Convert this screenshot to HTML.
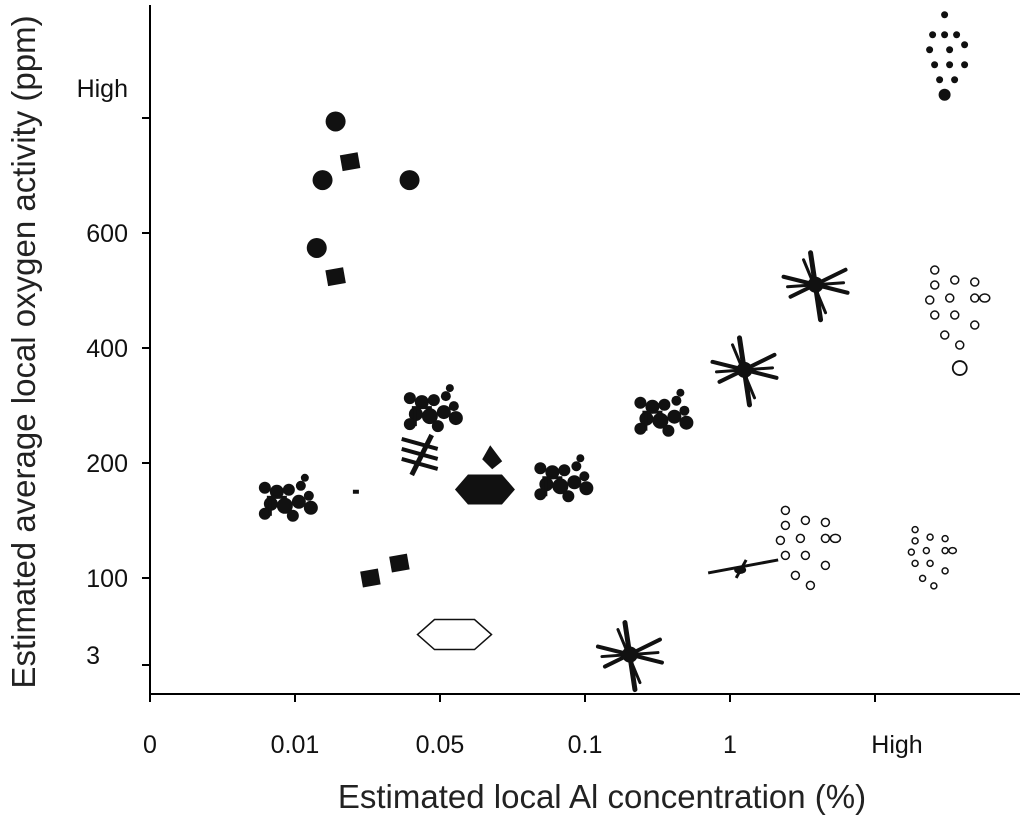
<!DOCTYPE html>
<html><head><meta charset="utf-8">
<style>
html,body{margin:0;padding:0;background:#fff;}
svg{display:block;font-family:"Liberation Sans",Arial,sans-serif;}
</style></head>
<body>
<svg id="chart" width="1024" height="815" viewBox="0 0 1024 815"></svg>
<script>
// Categorical axis labels
const xTickLabels = ["0","0.01","0.05","0.1","1","High"];
const yTickLabels = ["3","100","200","400","600","High"];
// Inclusion cluster data (positions in axis index units)
const clusterTypes = ["blobs","blob","square","blob","blob","blob","square","blobs","hatch","dash","hexFilled","diamond","square","square","hexOpen","blobs","blobs","star","star","star","starSmall","openCircles","openCirclesSmall","openCirclesBig","dots"];
const clusterX = [0.93,1.28,1.38,1.19,1.79,1.15,1.28,1.93,1.86,1.42,2.31,2.36,1.52,1.72,2.10,2.83,3.52,3.31,4.10,4.59,4.07,4.52,5.38,5.55,5.48];
const clusterY = [1.68,4.97,4.62,4.46,4.46,3.87,3.62,2.46,2.07,1.75,1.77,2.05,1.00,1.13,0.35,1.85,2.42,0.12,2.81,3.55,1.07,1.24,1.16,3.33,5.55];

const X0=150, XSTEP=145, AXIS_Y=694;
function xScale(i){return X0+i*XSTEP;}
function yScale(v){return v<1 ? 665-v*87 : 578-(v-1)*115;}

const svg=document.getElementById('chart');
const NS='http://www.w3.org/2000/svg';
function mk(tag,attrs,parent){const e=document.createElementNS(NS,tag);for(const k in attrs)e.setAttribute(k,attrs[k]);(parent||svg).appendChild(e);return e;}

const ya=mk('line',{x1:150,y1:5,x2:150,y2:AXIS_Y,stroke:'#000','stroke-width':2});


const xa=mk('line',{x1:150,y1:AXIS_Y,x2:1020,y2:AXIS_Y,stroke:'#000','stroke-width':2});



xTickLabels.forEach((l,i)=>{
  const x=xScale(i);
  const tk=mk('line',{x1:x,y1:AXIS_Y,x2:x,y2:AXIS_Y+8,stroke:'#000','stroke-width':2});
  
  
  const t=mk('text',{x:(i===5?x+22:x),y:753,'font-size':25,'text-anchor':'middle',fill:'#111'});
  t.textContent=l;
  
  
});
const yTickPos=[0,1,2,3,4,5];
yTickLabels.forEach((l,i)=>{
  const y=yScale(yTickPos[i]);
  const tk=mk('line',{x1:142,y1:y,x2:150,y2:y,stroke:'#000','stroke-width':2});
  
  
  const ly = i===0 ? y-1 : (i===5 ? y-21 : y+9);
  const t=mk('text',{x:(i===0?100:128),y:ly,'font-size':25,'text-anchor':'end',fill:'#111'});
  t.textContent=l;
  
  
});
const xt=mk('text',{x:602,y:808,'font-size':33,'text-anchor':'middle',fill:'#222'});
xt.textContent='Estimated local Al concentration (%)';


const yt=mk('text',{x:0,y:0,'font-size':33,'text-anchor':'middle',fill:'#222',transform:'translate(35,352) rotate(-90)'});
yt.textContent='Estimated average local oxygen activity (ppm)';



function drawCluster(type,cx,cy,g){
  const f='#111';
  if(type==='blob'){mk('circle',{cx,cy,r:10,fill:f},g);}
  else if(type==='square'){mk('rect',{x:cx-9,y:cy-8,width:18,height:16,fill:f,transform:`rotate(-10 ${cx} ${cy})`},g);}
  else if(type==='blobs'){
    [[-20,-12,6],[-8,-8,7],[4,-10,6],[16,-14,5],[-14,4,7],[0,6,8],[14,2,7],[24,-4,5],[-20,14,6],[8,16,6],[26,8,7],[20,-22,4]].forEach(o=>mk('circle',{cx:cx+o[0],cy:cy+o[1],r:o[2],fill:f},g));
    mk('rect',{x:cx-18,y:cy-4,width:20,height:3,fill:f},g);
    mk('rect',{x:cx-16,y:cy-2,width:3,height:18,fill:f},g);
  }
  else if(type==='hatch'){
    mk('line',{x1:cx+12,y1:cy-20,x2:cx-8,y2:cy+20,stroke:f,'stroke-width':5},g);
    [-10,0,10].forEach(d=>mk('line',{x1:cx-18,y1:cy+d-6,x2:cx+18,y2:cy+d+4,stroke:f,'stroke-width':4},g));
  }
  else if(type==='dash'){mk('rect',{x:cx-3,y:cy-2,width:6,height:4,fill:f},g);}
  else if(type==='hexFilled'){mk('polygon',{points:`${cx-30},${cy} ${cx-17},${cy-15} ${cx+17},${cy-15} ${cx+30},${cy} ${cx+17},${cy+15} ${cx-17},${cy+15}`,fill:f},g);}
  else if(type==='hexOpen'){mk('polygon',{points:`${cx-37},${cy} ${cx-20},${cy-15} ${cx+20},${cy-15} ${cx+37},${cy} ${cx+20},${cy+15} ${cx-20},${cy+15}`,fill:'none',stroke:f,'stroke-width':1.5},g);}
  else if(type==='diamond'){mk('polygon',{points:`${cx-10},${cy+2} ${cx-2},${cy-12} ${cx+10},${cy+4} ${cx},${cy+12}`,fill:f},g);}
  else if(type==='star'){
    [[-5,-32,5,35,5],[-32,-8,32,8,4],[-25,12,30,-15,4],[-12,-25,10,28,3],[-28,2,28,-2,3]].forEach(l=>mk('line',{x1:cx+l[0],y1:cy+l[1],x2:cx+l[2],y2:cy+l[3],stroke:f,'stroke-width':l[4],'stroke-linecap':'round'},g));
    mk('circle',{cx,cy,r:8,fill:f},g);
  }
  else if(type==='starSmall'){
    mk('line',{x1:cx-32,y1:cy+3,x2:cx+38,y2:cy-10,stroke:f,'stroke-width':3},g);
    mk('line',{x1:cx-4,y1:cy+8,x2:cx+6,y2:cy-10,stroke:f,'stroke-width':3},g);
    mk('ellipse',{cx,cy,rx:6,ry:4,fill:f},g);
  }
  else if(type==='openCircles'||type==='openCirclesSmall'||type==='openCirclesBig'){
    const s=type==='openCirclesSmall'?0.75:1;
    [[-20,-40],[-20,-25],[0,-30],[20,-28],[-25,-10],[-5,-12],[20,-12],[-20,5],[0,5],[20,15],[-10,25],[5,35],[30,-12]].forEach((o,k)=>mk('ellipse',{cx:cx+o[0]*s,cy:cy+o[1]*s,rx:(k===12?5:4)*s,ry:4*s,fill:'none',stroke:f,'stroke-width':1.5},g));
    if(type==='openCirclesBig'){mk('circle',{cx:cx+5,cy:cy+58,r:7,fill:'none',stroke:f,'stroke-width':1.8},g);}
  }
  else if(type==='dots'){
    [[0,-40],[-12,-20],[0,-20],[12,-20],[-15,-5],[5,-5],[20,-10],[-10,10],[5,10],[20,10],[-5,25],[10,25],[0,40]].forEach((o,k)=>mk('circle',{cx:cx+o[0],cy:cy+o[1],r:k===12?6:3.5,fill:f},g));
  }
}
clusterTypes.forEach((t,i)=>{
  const g=mk('g',{});
  
  
  drawCluster(t,xScale(clusterX[i]),yScale(clusterY[i]),g);
});
</script>
</body></html>
